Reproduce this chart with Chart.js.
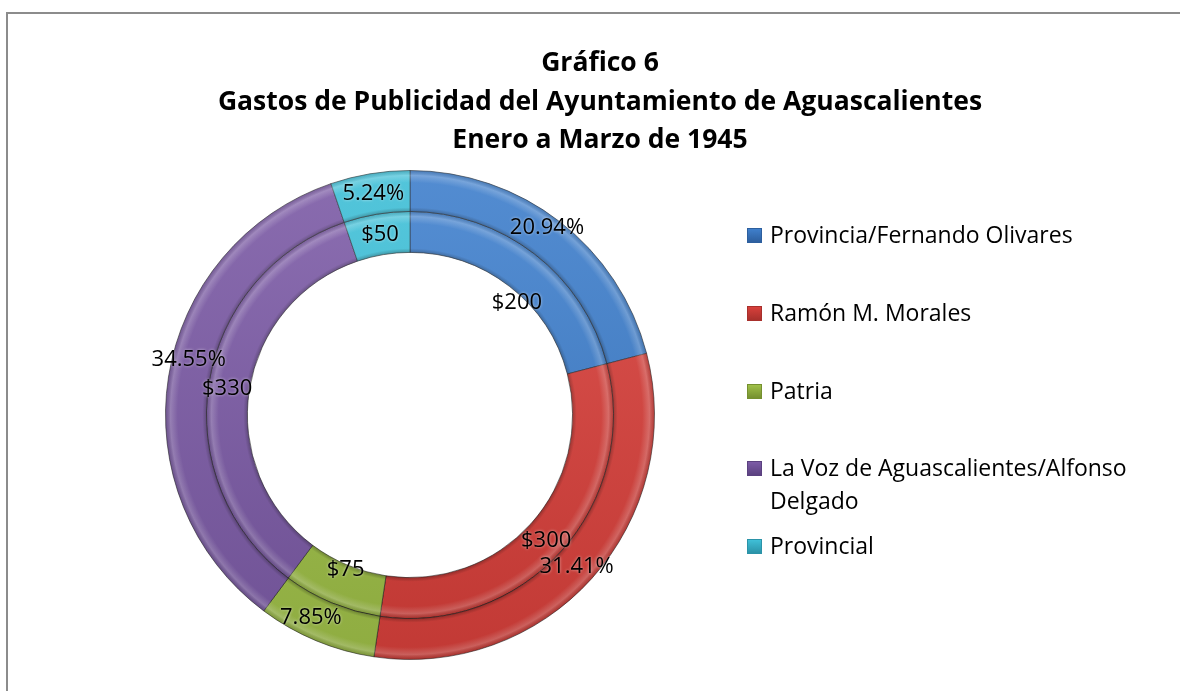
<!DOCTYPE html>
<html lang="es">
<head>
<meta charset="utf-8">
<title>Gráfico 6</title>
<script src="https://cdn.jsdelivr.net/npm/chart.js@4.4.1/dist/chart.umd.min.js"></script>
<style>
  html, body { margin: 0; padding: 0; background: #fff; }
  body { width: 1180px; height: 691px; position: relative; overflow: hidden; font-family: "Open Sans", Lato, sans-serif; }
  #marco { position: absolute; left: 6px; top: 12px; width: 1200px; height: 720px; border: 2px solid #8c8c8c; box-sizing: border-box; }
  #titulo { position: absolute; left: 20px; width: 1160px; top: 42px; text-align: center; font-weight: bold; font-size: 26.5px; line-height: 38.5px; color: #000; }
  #grafico { position: absolute; left: 0; top: 0; width: 1180px; height: 691px; }
  .leyenda-item { position: absolute; left: 747px; font-size: 23px; line-height: 33px; color: #000; }
  .leyenda-item .caja { position: absolute; left: 0; top: 10px; width: 15px; height: 15px; box-sizing: border-box; }
  .leyenda-item .texto { position: absolute; left: 23px; top: 0; white-space: nowrap; }
</style>
</head>
<body>
<div id="marco"></div>
<div id="grafico"><canvas id="dona"></canvas></div>
<div id="titulo">Gráfico 6<br>Gastos de Publicidad del Ayuntamiento de Aguascalientes<br>Enero a Marzo de 1945</div>
<div id="leyenda"></div>

<script>
// Datos
const categorias = [
    'Provincia/Fernando Olivares',
    'Ramón M. Morales',
    'Patria',
    ['La Voz de Aguascalientes/Alfonso', 'Delgado'],
    'Provincial'
];
const gastos = [200, 300, 75, 330, 50];            // anillo interior ($)
const porcentajes = [20.94, 31.41, 7.85, 34.55, 5.24]; // anillo exterior (%)

// Colores
const colores = ['#3f7fcc', '#d8403b', '#9fc048', '#7c5ba6', '#3fbfd7'];
const coloresOscuros = ['#2d5f9e', '#a8302c', '#75902f', '#5b4180', '#2b93a8'];

// Ajustes de las etiquetas (como en Excel), [dx, dy]
const ajusteExterior = [[0, -10], [0, 2], [-13, -4], [0, -20], [0, 0]];
const ajusteInterior = [[-5, 33], [0, 3], [6, -14], [-2, 2], [0, 0]];

const fuenteEtiquetas = '22px "Open Sans"';

// Leyenda (HTML)
const topesLeyenda = [218, 296, 374, 451, 529];
const leyenda = document.getElementById('leyenda');
categorias.forEach((cat, i) => {
    const item = document.createElement('div');
    item.className = 'leyenda-item';
    item.style.top = topesLeyenda[i] + 'px';
    const caja = document.createElement('span');
    caja.className = 'caja';
    caja.style.background = `linear-gradient(180deg, ${colores[i]} 0%, ${coloresOscuros[i]} 100%)`;
    caja.style.border = `1px solid ${coloresOscuros[i]}`;
    const texto = document.createElement('span');
    texto.className = 'texto';
    texto.innerHTML = Array.isArray(cat) ? cat.join('<br>') : cat;
    item.appendChild(caja);
    item.appendChild(texto);
    leyenda.appendChild(item);
});

// Relieve de los segmentos
const relieve = {
    id: 'relieve',
    afterDatasetsDraw(chart) {
        const ctx = chart.ctx;
        chart.data.datasets.forEach((ds, i) => {
            const meta = chart.getDatasetMeta(i);
            meta.data.forEach(arc => {
                const {x, y, startAngle, endAngle, innerRadius, outerRadius} = arc.getProps(['x', 'y', 'startAngle', 'endAngle', 'innerRadius', 'outerRadius'], true);
                ctx.save();
                ctx.beginPath();
                ctx.arc(x, y, outerRadius, startAngle, endAngle);
                ctx.arc(x, y, innerRadius, endAngle, startAngle, true);
                ctx.closePath();
                const g = ctx.createRadialGradient(x, y, innerRadius, x, y, outerRadius);
                g.addColorStop(0, 'rgba(0,0,0,0.25)');
                g.addColorStop(0.1, 'rgba(0,0,0,0)');
                g.addColorStop(0.7, 'rgba(255,255,255,0)');
                g.addColorStop(0.88, 'rgba(255,255,255,0.22)');
                g.addColorStop(1, 'rgba(0,0,0,0.12)');
                ctx.fillStyle = g;
                ctx.fill();
                const lg = ctx.createLinearGradient(0, y - outerRadius, 0, y + outerRadius);
                lg.addColorStop(0, 'rgba(255,255,255,0.10)');
                lg.addColorStop(1, 'rgba(0,0,0,0.10)');
                ctx.fillStyle = lg;
                ctx.fill();
                ctx.restore();
            });
        });
    }
};

// Etiquetas de datos
const etiquetas = {
    id: 'etiquetas',
    afterDatasetsDraw(chart) {
        const ctx = chart.ctx;
        ctx.save();
        ctx.font = fuenteEtiquetas;
        ctx.fillStyle = '#000';
        ctx.textAlign = 'center';
        ctx.textBaseline = 'middle';
        ctx.shadowColor = 'rgba(255,255,255,0.6)';
        ctx.shadowBlur = 3;
        chart.data.datasets.forEach((ds, i) => {
            const meta = chart.getDatasetMeta(i);
            const ajuste = i === 0 ? ajusteExterior : ajusteInterior;
            meta.data.forEach((arc, j) => {
                const p = arc.tooltipPosition(true);
                const v = ds.data[j];
                const texto = i === 0 ? v.toFixed(2) + '%' : '$' + v;
                ctx.fillText(texto, p.x + ajuste[j][0], p.y + ajuste[j][1]);
            });
        });
        ctx.restore();
    }
};

function dibujar() {
    new Chart(document.getElementById('dona'), {
        type: 'doughnut',
        data: {
            labels: categorias.map(c => Array.isArray(c) ? c.join(' ') : c),
            datasets: [
                {
                    label: 'Porcentaje',
                    data: porcentajes,
                    backgroundColor: colores,
                    borderColor: 'rgba(30,30,30,0.55)',
                    borderWidth: 1
                },
                {
                    label: 'Gasto',
                    data: gastos,
                    backgroundColor: colores,
                    borderColor: 'rgba(30,30,30,0.55)',
                    borderWidth: 1
                }
            ]
        },
        options: {
            responsive: true,
            maintainAspectRatio: false,
            animation: false,
            cutout: '66.5%',
            layout: {
                padding: { left: 165, right: 525, top: 170, bottom: 31 }
            },
            plugins: {
                legend: { display: false },
                title: { display: false },
                tooltip: { enabled: false }
            }
        },
        plugins: [relieve, etiquetas]
    });
}

document.fonts.load(fuenteEtiquetas).then(dibujar, dibujar);
</script>
</body>
</html>
